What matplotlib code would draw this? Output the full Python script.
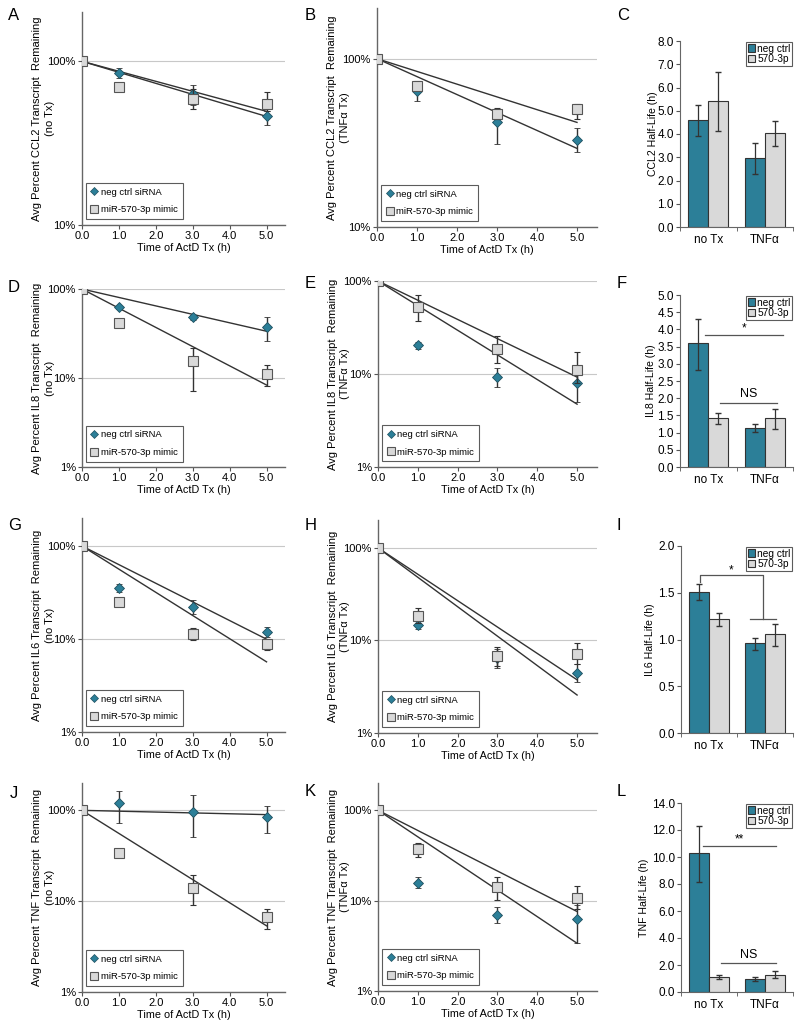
import numpy as np
import matplotlib.pyplot as plt
from matplotlib.patches import Patch
from matplotlib.lines import Line2D

plt.rcParams['font.family'] = ['Liberation Sans', 'DejaVu Sans']
plt.rcParams['font.size'] = 8

TEAL = '#2c7f98'
GREY = '#d9d9d9'
DARK = '#333333'

hours = [0, 1, 3, 5]

# --- percent remaining after ActD (neg ctrl siRNA / miR-570-3p mimic), with error bar bounds
ccl2_notx_neg = [100, 85, 63, 46]
ccl2_notx_neg_lo = [100, 79, 54, 41]
ccl2_notx_neg_hi = [100, 91, 72, 50]
ccl2_notx_mim = [100, 70, 59, 55]
ccl2_notx_mim_lo = [100, 67, 51, 50]
ccl2_notx_mim_hi = [100, 73, 68, 65]

ccl2_tnf_neg = [100, 64, 42, 33]
ccl2_tnf_neg_lo = [100, 56, 31, 28]
ccl2_tnf_neg_hi = [100, 70, 50, 39]
ccl2_tnf_mim = [100, 69, 47, 50]
ccl2_tnf_mim_lo = [100, 65, 44, 44]
ccl2_tnf_mim_hi = [100, 74, 51, 54]

il8_notx_neg = [100, 62, 48, 37]
il8_notx_neg_lo = [100, 59, 45, 26]
il8_notx_neg_hi = [100, 65, 51, 48]
il8_notx_mim = [100, 41, 15.7, 11.2]
il8_notx_mim_lo = [100, 39, 7.1, 8.2]
il8_notx_mim_hi = [100, 43, 22, 14]

il8_tnf_neg = [100, 20.3, 9.3, 8.0]
il8_tnf_neg_lo = [100, 18.4, 7.2, 5.0]
il8_tnf_neg_hi = [100, 22.2, 11.7, 10.0]
il8_tnf_mim = [100, 53, 18.7, 11.1]
il8_tnf_mim_lo = [100, 37, 13, 8.0]
il8_tnf_mim_hi = [100, 70, 25.6, 17.2]

il6_notx_neg = [100, 35.5, 22.2, 12.0]
il6_notx_neg_lo = [100, 32.2, 18.8, 10.6]
il6_notx_neg_hi = [100, 39.5, 26.2, 13.5]
il6_notx_mim = [100, 25, 11.3, 8.8]
il6_notx_mim_lo = [100, 24, 9.8, 7.7]
il6_notx_mim_hi = [100, 26, 13, 10]

il6_tnf_neg = [100, 14.7, 6.5, 4.5]
il6_tnf_neg_lo = [100, 13.3, 5.0, 3.6]
il6_tnf_neg_hi = [100, 16.2, 8.0, 5.5]
il6_tnf_mim = [100, 18.5, 6.8, 7.1]
il6_tnf_mim_lo = [100, 15.5, 5.3, 5.6]
il6_tnf_mim_hi = [100, 22.4, 8.5, 9.4]

tnf_notx_neg = [100, 119, 97, 84.5]
tnf_notx_neg_lo = [100, 72, 51, 55.6]
tnf_notx_neg_hi = [100, 165, 146, 113]
tnf_notx_mim = [100, 34, 14, 6.7]
tnf_notx_mim_lo = [100, 32, 9.0, 4.9]
tnf_notx_mim_hi = [100, 36, 19.2, 8.2]

tnf_tnf_neg = [100, 15.8, 7.0, 6.2]
tnf_tnf_neg_lo = [100, 13.7, 5.6, 3.4]
tnf_tnf_neg_hi = [100, 18.2, 8.5, 9.0]
tnf_tnf_mim = [100, 37, 14, 10.7]
tnf_tnf_mim_lo = [100, 30.4, 10.2, 8.0]
tnf_tnf_mim_hi = [100, 43.3, 18.2, 14.6]

# --- half-lives (h): [no Tx, TNFa]
groups = ['no Tx', 'TNF\u03b1']
ccl2_hl_neg, ccl2_hl_neg_lo, ccl2_hl_neg_hi = [4.6, 2.96], [3.93, 2.28], [5.24, 3.6]
ccl2_hl_mim, ccl2_hl_mim_lo, ccl2_hl_mim_hi = [5.44, 4.03], [4.13, 3.49], [6.68, 4.54]
il8_hl_neg, il8_hl_neg_lo, il8_hl_neg_hi = [3.6, 1.14], [2.82, 1.02], [4.3, 1.25]
il8_hl_mim, il8_hl_mim_lo, il8_hl_mim_hi = [1.41, 1.41], [1.26, 1.11], [1.57, 1.69]
il6_hl_neg, il6_hl_neg_lo, il6_hl_neg_hi = [1.51, 0.96], [1.42, 0.885], [1.59, 1.02]
il6_hl_mim, il6_hl_mim_lo, il6_hl_mim_hi = [1.215, 1.055], [1.14, 0.935], [1.28, 1.165]
tnf_hl_neg, tnf_hl_neg_lo, tnf_hl_neg_hi = [10.3, 0.99], [8.18, 0.82], [12.26, 1.11]
tnf_hl_mim, tnf_hl_mim_lo, tnf_hl_mim_hi = [1.11, 1.29], [0.99, 1.07], [1.24, 1.54]

# significance lines: (x0, x1, y, label, label_y)
il8_sig = [(-0.06, 1.32, 3.83, '*', 4.02), (0.21, 1.22, 1.87, 'NS', 2.12)]
tnf_sig = [(-0.11, 1.2, 10.78, '**', 11.3), (0.21, 1.2, 2.18, 'NS', 2.75)]

W, H = 800, 1027
fig = plt.figure(figsize=(W / 100, H / 100), dpi=100)


def add_ax(left, top, right, bottom):
    return fig.add_axes([left / W, 1 - bottom / H, (right - left) / W, (bottom - top) / H])


def exp_fit(x, y):
    # exponential trendline forced through 100% at t=0
    x = np.array(x, float)
    ly = np.log(np.array(y, float) / 100)
    k = np.sum(x * ly) / np.sum(x * x)
    xs = np.linspace(0, 5, 50)
    return xs, 100 * np.exp(k * xs)


def decay_panel(box, letter, gene, tx, neg, neg_lo, neg_hi, mim, mim_lo, mim_hi, ylim, yticks):
    ax = add_ax(*box)
    wpx = box[2] - box[0]
    ax.set_yscale('log')
    ax.set_ylim(*ylim)
    ax.set_xlim(0, 5.5)
    for t in yticks:
        ax.axhline(t, color='#c8c8c8', lw=0.8, zorder=0)
    for ys in (neg, mim):
        xs, fit = exp_fit(hours, ys)
        ax.plot(xs, fit, color=DARK, lw=1.0, zorder=2)
    neg = np.array(neg); mim = np.array(mim)
    ax.errorbar(hours, neg, yerr=[neg - np.array(neg_lo), np.array(neg_hi) - neg], fmt='D',
                ms=5, mfc=TEAL, mec='#1e4f5e', mew=0.6, ecolor=DARK, elinewidth=1, capsize=2.5,
                zorder=3)
    ax.errorbar(hours, mim, yerr=[mim - np.array(mim_lo), np.array(mim_hi) - mim], fmt='s',
                ms=7, mfc=GREY, mec='#555555', mew=0.8, ecolor=DARK, elinewidth=1, capsize=2.5,
                zorder=4)
    ax.set_yticks(yticks)
    ax.set_yticklabels(['%d%%' % t for t in yticks])
    ax.minorticks_off()
    ax.set_xticks(range(6))
    ax.set_xticklabels(['%.1f' % v for v in range(6)])
    ax.tick_params(labelsize=8, length=3, color='#555555', pad=1.5)
    for s in ('top', 'right'):
        ax.spines[s].set_visible(False)
    for s in ('left', 'bottom'):
        ax.spines[s].set_color('#666666')
        ax.spines[s].set_linewidth(1.0)
    ax.set_xlabel('Time of ActD Tx (h)', fontsize=7.8, labelpad=1)
    # two-line y label, each line placed on its own
    ax.text(-45 / wpx, 0.5, 'Avg Percent %s Transcript  Remaining' % gene, transform=ax.transAxes,
            rotation=90, ha='center', va='center', fontsize=8.0)
    ax.text(-32.5 / wpx, 0.5, '(%s)' % tx, transform=ax.transAxes,
            rotation=90, ha='center', va='center', fontsize=8.0)
    handles = [Line2D([], [], marker='D', ls='', ms=4, mfc=TEAL, mec='#1e4f5e', mew=0.5),
               Line2D([], [], marker='s', ls='', ms=6, mfc=GREY, mec='#555555', mew=0.8)]
    leg = ax.legend(handles, ['neg ctrl siRNA', 'miR-570-3p mimic'], loc='lower left',
                    bbox_to_anchor=(0.01, 0.02), fontsize=6.8, fancybox=False,
                    handlelength=0.8, handletextpad=0.3, borderpad=0.5, labelspacing=0.9,
                    borderaxespad=0.2)
    leg.get_frame().set_edgecolor(DARK)
    leg.get_frame().set_linewidth(0.8)
    fig.text(letter[1] / W, 1 - letter[2] / H, letter[0], fontsize=12, va='center', ha='left')
    return ax


def halflife_panel(box, letter, gene, neg, neg_lo, neg_hi, mim, mim_lo, mim_hi, ymax, step,
                   label_off):
    ax = add_ax(*box)
    x = np.arange(len(groups))
    w = 0.35
    neg = np.array(neg); mim = np.array(mim)
    ax.bar(x - w / 2, neg, w, color=TEAL, edgecolor=DARK, lw=0.8, zorder=2,
           yerr=[neg - np.array(neg_lo), np.array(neg_hi) - neg],
           error_kw=dict(ecolor=DARK, elinewidth=0.9, capsize=2.5))
    ax.bar(x + w / 2, mim, w, color=GREY, edgecolor=DARK, lw=0.8, zorder=2,
           yerr=[mim - np.array(mim_lo), np.array(mim_hi) - mim],
           error_kw=dict(ecolor=DARK, elinewidth=0.9, capsize=2.5))
    ax.set_xlim(-0.5, 1.5)
    ax.set_ylim(0, ymax)
    ticks = np.arange(0, ymax + step / 2, step)
    ax.set_yticks(ticks)
    ax.set_yticklabels(['%.1f' % t for t in ticks])
    ax.set_xticks(x)
    ax.set_xticklabels(groups)
    ax.set_xticks([-0.5, 0.5, 1.5], minor=True)
    ax.tick_params(axis='x', which='major', length=0, labelsize=8.5, pad=5)
    ax.tick_params(axis='x', which='minor', length=3, color='#555555')
    ax.tick_params(axis='y', length=3, color='#555555', labelsize=8.5, pad=1.5)
    for s in ('top', 'right'):
        ax.spines[s].set_visible(False)
    for s in ('left', 'bottom'):
        ax.spines[s].set_color('#666666')
    ax.set_ylabel('%s Half-Life (h)' % gene, fontsize=7.6)
    ax.yaxis.set_label_coords(-label_off / (box[2] - box[0]), 0.5)
    handles = [Patch(facecolor=TEAL, edgecolor=DARK, lw=0.8),
               Patch(facecolor=GREY, edgecolor=DARK, lw=0.8)]
    leg = ax.legend(handles, ['neg ctrl', '570-3p'], loc='upper right', bbox_to_anchor=(1.0, 1.0),
                    fontsize=7.3, fancybox=False, handlelength=0.7, handleheight=0.7,
                    handletextpad=0.2, borderpad=0.15, labelspacing=0.05, borderaxespad=0.1)
    leg.get_frame().set_edgecolor(DARK)
    leg.get_frame().set_linewidth(0.8)
    leg.set_zorder(1)
    fig.text(letter[1] / W, 1 - letter[2] / H, letter[0], fontsize=12, va='center', ha='left')
    return ax


def sig_lines(ax, sigs):
    for x0, x1, y, lab, ly in sigs:
        ax.plot([x0, x1], [y, y], color='#555555', lw=0.9)
        ax.text((x0 + x1) / 2, ly, lab, ha='center', va='center', zorder=5,
                fontsize=9 if lab == 'NS' else 8.5)


# row 1: CCL2
decay_panel((82, 12, 285, 225), ('A', 8, 16), 'CCL2', 'no Tx',
            ccl2_notx_neg, ccl2_notx_neg_lo, ccl2_notx_neg_hi,
            ccl2_notx_mim, ccl2_notx_mim_lo, ccl2_notx_mim_hi, (10, 200), [10, 100])
decay_panel((377, 8, 597, 227), ('B', 305, 16), 'CCL2', 'TNF\u03b1 Tx',
            ccl2_tnf_neg, ccl2_tnf_neg_lo, ccl2_tnf_neg_hi,
            ccl2_tnf_mim, ccl2_tnf_mim_lo, ccl2_tnf_mim_hi, (10, 200), [10, 100])
halflife_panel((680, 41, 793, 227), ('C', 617, 16), 'CCL2',
               ccl2_hl_neg, ccl2_hl_neg_lo, ccl2_hl_neg_hi,
               ccl2_hl_mim, ccl2_hl_mim_lo, ccl2_hl_mim_hi, 8.0, 1.0, 22)

# row 2: IL8
decay_panel((82, 289, 285, 467), ('D', 8, 288), 'IL8', 'no Tx',
            il8_notx_neg, il8_notx_neg_lo, il8_notx_neg_hi,
            il8_notx_mim, il8_notx_mim_lo, il8_notx_mim_hi, (1, 100), [1, 10, 100])
decay_panel((378, 281, 597, 467), ('E', 305, 283), 'IL8', 'TNF\u03b1 Tx',
            il8_tnf_neg, il8_tnf_neg_lo, il8_tnf_neg_hi,
            il8_tnf_mim, il8_tnf_mim_lo, il8_tnf_mim_hi, (1, 100), [1, 10, 100])
ax_f = halflife_panel((680, 295, 793, 467), ('F', 617, 283), 'IL8',
                      il8_hl_neg, il8_hl_neg_lo, il8_hl_neg_hi,
                      il8_hl_mim, il8_hl_mim_lo, il8_hl_mim_hi, 5.0, 0.5, 24)
sig_lines(ax_f, il8_sig)

# row 3: IL6
decay_panel((82, 518, 285, 732), ('G', 8, 526), 'IL6', 'no Tx',
            il6_notx_neg, il6_notx_neg_lo, il6_notx_neg_hi,
            il6_notx_mim, il6_notx_mim_lo, il6_notx_mim_hi, (1, 200), [1, 10, 100])
decay_panel((378, 520, 597, 733), ('H', 305, 526), 'IL6', 'TNF\u03b1 Tx',
            il6_tnf_neg, il6_tnf_neg_lo, il6_tnf_neg_hi,
            il6_tnf_mim, il6_tnf_mim_lo, il6_tnf_mim_hi, (1, 200), [1, 10, 100])
ax_i = halflife_panel((681, 546, 793, 733), ('I', 617, 525), 'IL6',
                      il6_hl_neg, il6_hl_neg_lo, il6_hl_neg_hi,
                      il6_hl_mim, il6_hl_mim_lo, il6_hl_mim_hi, 2.0, 0.5, 26)
# bracket between no Tx neg ctrl and TNFa group
ax_i.plot([-0.16, -0.16, 0.97, 0.97], [1.62, 1.69, 1.69, 1.22], color='#555555', lw=0.9)
ax_i.plot([0.74, 1.2], [1.22, 1.22], color='#555555', lw=0.9)
ax_i.text(0.4, 1.74, '*', ha='center', va='center', fontsize=8.5)

# row 4: TNF
decay_panel((82, 783, 285, 992), ('J', 10, 793), 'TNF', 'no Tx',
            tnf_notx_neg, tnf_notx_neg_lo, tnf_notx_neg_hi,
            tnf_notx_mim, tnf_notx_mim_lo, tnf_notx_mim_hi, (1, 200), [1, 10, 100])
decay_panel((378, 783, 597, 991), ('K', 305, 792), 'TNF', 'TNF\u03b1 Tx',
            tnf_tnf_neg, tnf_tnf_neg_lo, tnf_tnf_neg_hi,
            tnf_tnf_mim, tnf_tnf_mim_lo, tnf_tnf_mim_hi, (1, 200), [1, 10, 100])
ax_l = halflife_panel((681, 803, 793, 992), ('L', 617, 792), 'TNF',
                      tnf_hl_neg, tnf_hl_neg_lo, tnf_hl_neg_hi,
                      tnf_hl_mim, tnf_hl_mim_lo, tnf_hl_mim_hi, 14.0, 2.0, 32)
sig_lines(ax_l, tnf_sig)

fig.savefig('out.png', dpi=100)
